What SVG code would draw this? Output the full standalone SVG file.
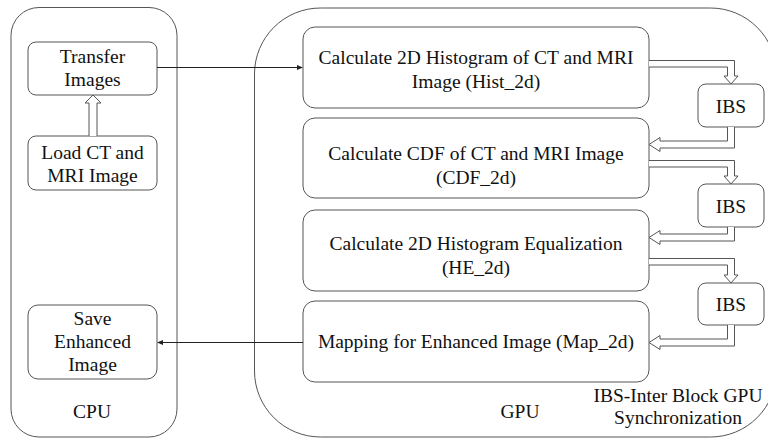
<svg xmlns="http://www.w3.org/2000/svg" width="768" height="438" viewBox="0 0 768 438">
  <style>
    .t { font-family: Tinos, 'Liberation Serif', 'Times New Roman', 'DejaVu Serif', serif; font-size: 19.5px; text-anchor: middle; fill: #111; }
    .frame { fill: none; stroke: #555; }
    .box { fill: #fff; stroke: #555; }
  </style>
  <rect width="768" height="438" fill="#fff"/>

  <!-- CPU side -->
  <g id="cpu">
    <rect class="frame" x="11" y="7.5" width="166" height="429.5" rx="28"/>
    <text class="t" x="92" y="418">CPU</text>
  </g>
  <!-- GPU side -->
  <g id="gpu">
    <rect class="frame" x="254.5" y="8" width="522" height="429" rx="66"/>
    <text class="t" x="520" y="418">GPU</text>
    <text class="t" x="678" y="402">IBS-Inter Block GPU</text>
    <text class="t" x="678" y="424">Synchronization</text>
  </g>

  <g id="transfer">
    <rect class="box" x="28" y="42" width="129" height="53" rx="8"/>
    <text class="t" x="92.5" y="63">Transfer</text>
    <text class="t" x="92.5" y="86">Images</text>
  </g>
  <g id="load">
    <rect class="box" x="28" y="136" width="129" height="54" rx="8"/>
    <text class="t" x="92.5" y="159">Load CT and</text>
    <text class="t" x="92.5" y="182">MRI Image</text>
  </g>
  <g id="save">
    <rect class="box" x="28" y="305" width="129" height="74" rx="10"/>
    <text class="t" x="92.5" y="325">Save</text>
    <text class="t" x="92.5" y="348">Enhanced</text>
    <text class="t" x="92.5" y="371">Image</text>
  </g>

  <g id="hist2d">
    <rect class="box" x="303" y="27" width="346" height="81" rx="12"/>
    <text class="t" x="476" y="64">Calculate 2D Histogram of CT and MRI</text>
    <text class="t" x="476" y="87.5">Image (Hist_2d)</text>
  </g>
  <g id="cdf2d">
    <rect class="box" x="303" y="118" width="346" height="80" rx="12"/>
    <text class="t" x="476" y="160">Calculate CDF of CT and MRI Image</text>
    <text class="t" x="476" y="184">(CDF_2d)</text>
  </g>
  <g id="he2d">
    <rect class="box" x="303" y="210" width="346" height="81" rx="12"/>
    <text class="t" x="476" y="250">Calculate 2D Histogram Equalization</text>
    <text class="t" x="476" y="274">(HE_2d)</text>
  </g>
  <g id="map2d">
    <rect class="box" x="303" y="301" width="346" height="81" rx="12"/>
    <text class="t" x="476" y="348">Mapping for Enhanced Image (Map_2d)</text>
  </g>

  <g id="ibs1">
    <rect class="box" x="698" y="84" width="66" height="43" rx="8"/>
    <text class="t" x="731" y="112.5">IBS</text>
  </g>
  <g id="ibs2">
    <rect class="box" x="698" y="184" width="66" height="43" rx="8"/>
    <text class="t" x="731" y="212.5">IBS</text>
  </g>
  <g id="ibs3">
    <rect class="box" x="698" y="283" width="66" height="42" rx="8"/>
    <text class="t" x="731" y="311">IBS</text>
  </g>

  <g id="connectors" fill="#fff" stroke="#555">
    <!-- load to transfer -->
    <path d="M89,136 V103 H85 L93,95 L101,103 H97 V136"/>
    <!-- CPU to GPU and back, thin lines with small solid heads -->
    <path d="M157,67.5 H298" fill="none" stroke="#222"/>
    <path d="M297,65 L303,67.5 L297,70 Z" fill="#222" stroke="none"/>
    <path d="M303,342.5 H162" fill="none" stroke="#222"/>
    <path d="M163,340 L157,342.5 L163,345 Z" fill="#222" stroke="none"/>
    <!-- kernel to IBS -->
    <path d="M649,60.5 H734.5 V76 H738 L731,84 L724,76 H727.5 V67 H649"/>
    <path d="M649,160.5 H734.5 V176 H738 L731,184 L724,176 H727.5 V167 H649"/>
    <path d="M649,258.5 H734.5 V275 H738 L731,283 L724,275 H727.5 V265 H649"/>
    <!-- IBS to next kernel -->
    <path d="M727.5,127 V141 H660 V137.5 L649,144.5 L660,151.5 V148 H734.5 V127"/>
    <path d="M727.5,227 V234 H660 V230.5 L649,237.5 L660,244.5 V241 H734.5 V227"/>
    <path d="M727.5,325 V339 H660 V335.5 L649,342.5 L660,349.5 V346 H734.5 V325"/>
  </g>
</svg>
